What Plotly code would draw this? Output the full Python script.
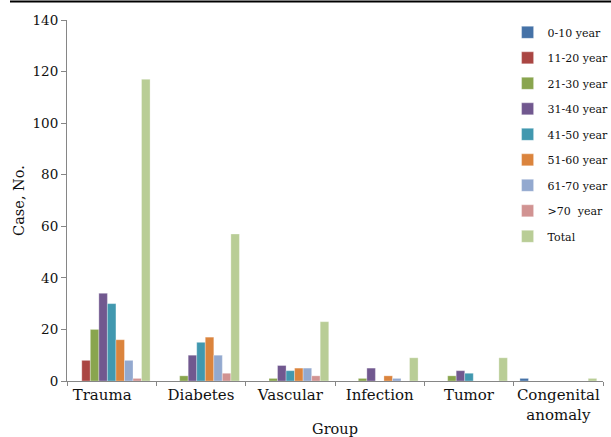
import plotly.graph_objects as go

groups = ["Trauma", "Diabetes", "Vascular", "Infection", "Tumor", "Congenital anomaly"]
group_labels = ["Trauma" + "\u00a0" * 4, "Diabetes", "Vascular", "Infection", "Tumor",
                "Congenital<br>anomaly"]

series_names = ["0-10 year", "11-20 year", "21-30 year", "31-40 year", "41-50 year",
                "51-60 year", "61-70 year", ">70  year", "Total"]

age_0_10 = [0, 0, 0, 0, 0, 1]
age_11_20 = [8, 0, 0, 0, 0, 0]
age_21_30 = [20, 2, 1, 1, 2, 0]
age_31_40 = [34, 10, 6, 5, 4, 0]
age_41_50 = [30, 15, 4, 0, 3, 0]
age_51_60 = [16, 17, 5, 2, 0, 0]
age_61_70 = [8, 10, 5, 1, 0, 0]
age_over_70 = [1, 3, 2, 0, 0, 0]
total = [117, 57, 23, 9, 9, 1]

series_values = [age_0_10, age_11_20, age_21_30, age_31_40, age_41_50,
                 age_51_60, age_61_70, age_over_70, total]

colors = ["#4572A7", "#AA4643", "#89A54E", "#71588F", "#4198AF",
          "#DB843D", "#93A9CF", "#D19392", "#B9CD96"]

y_ticks = [0, 20, 40, 60, 80, 100, 120, 140]

FONT = "DejaVu Serif"

fig = go.Figure()
for name, vals, col in zip(series_names, series_values, colors):
    fig.add_trace(go.Bar(
        name=name, x=groups, y=vals,
        marker=dict(color=col, line=dict(color="rgba(255,255,255,0.6)", width=0.5)),
        legendgroup=name,
    ))

fig.update_layout(
    width=611, height=437,
    margin=dict(l=67, r=8, t=20, b=56, autoexpand=False),
    paper_bgcolor="white", plot_bgcolor="white",
    barmode="group", bargap=0.14, bargroupgap=0,
    font=dict(family=FONT, color="#111111", size=14),
    showlegend=True,
    legend=dict(
        x=0.822, y=1.006, xanchor="left", yanchor="top",
        font=dict(family=FONT, size=11, color="#111111"),
        tracegroupgap=6.5, bgcolor="rgba(0,0,0,0)", maxheight=1.0,
    ),
    xaxis=dict(
        tickmode="array", tickvals=groups, ticktext=group_labels,
        tickangle=0, automargin=False,
        tickson="boundaries", ticks="outside", ticklen=4, tickcolor="#868686",
        showline=True, linecolor="#868686", linewidth=1,
        tickfont=dict(family=FONT, size=15, color="#111111"),
        title=dict(text="Group", font=dict(family=FONT, size=14.5, color="#111111"), standoff=1),
        showgrid=False, zeroline=False,
    ),
    yaxis=dict(
        range=[0, 140], tickvals=y_ticks, ticks="outside", ticklen=5, tickcolor="#868686",
        automargin=False,
        showline=True, linecolor="#868686", linewidth=1,
        tickfont=dict(family=FONT, size=13.5, color="#111111"),
        title=dict(text="Case, No.", font=dict(family=FONT, size=14.5, color="#111111"), standoff=4),
        showgrid=False, zeroline=False,
    ),
    shapes=[dict(type="line", xref="paper", yref="paper",
                 x0=(10 - 67) / 536, x1=(611 - 67) / 536,
                 y0=(381 - 1.5) / 361, y1=(381 - 1.5) / 361,
                 line=dict(color="black", width=2))],
)

fig.write_html("out.html", config={"displayModeBar": False},
               post_script="document.body.style.margin='0';")
